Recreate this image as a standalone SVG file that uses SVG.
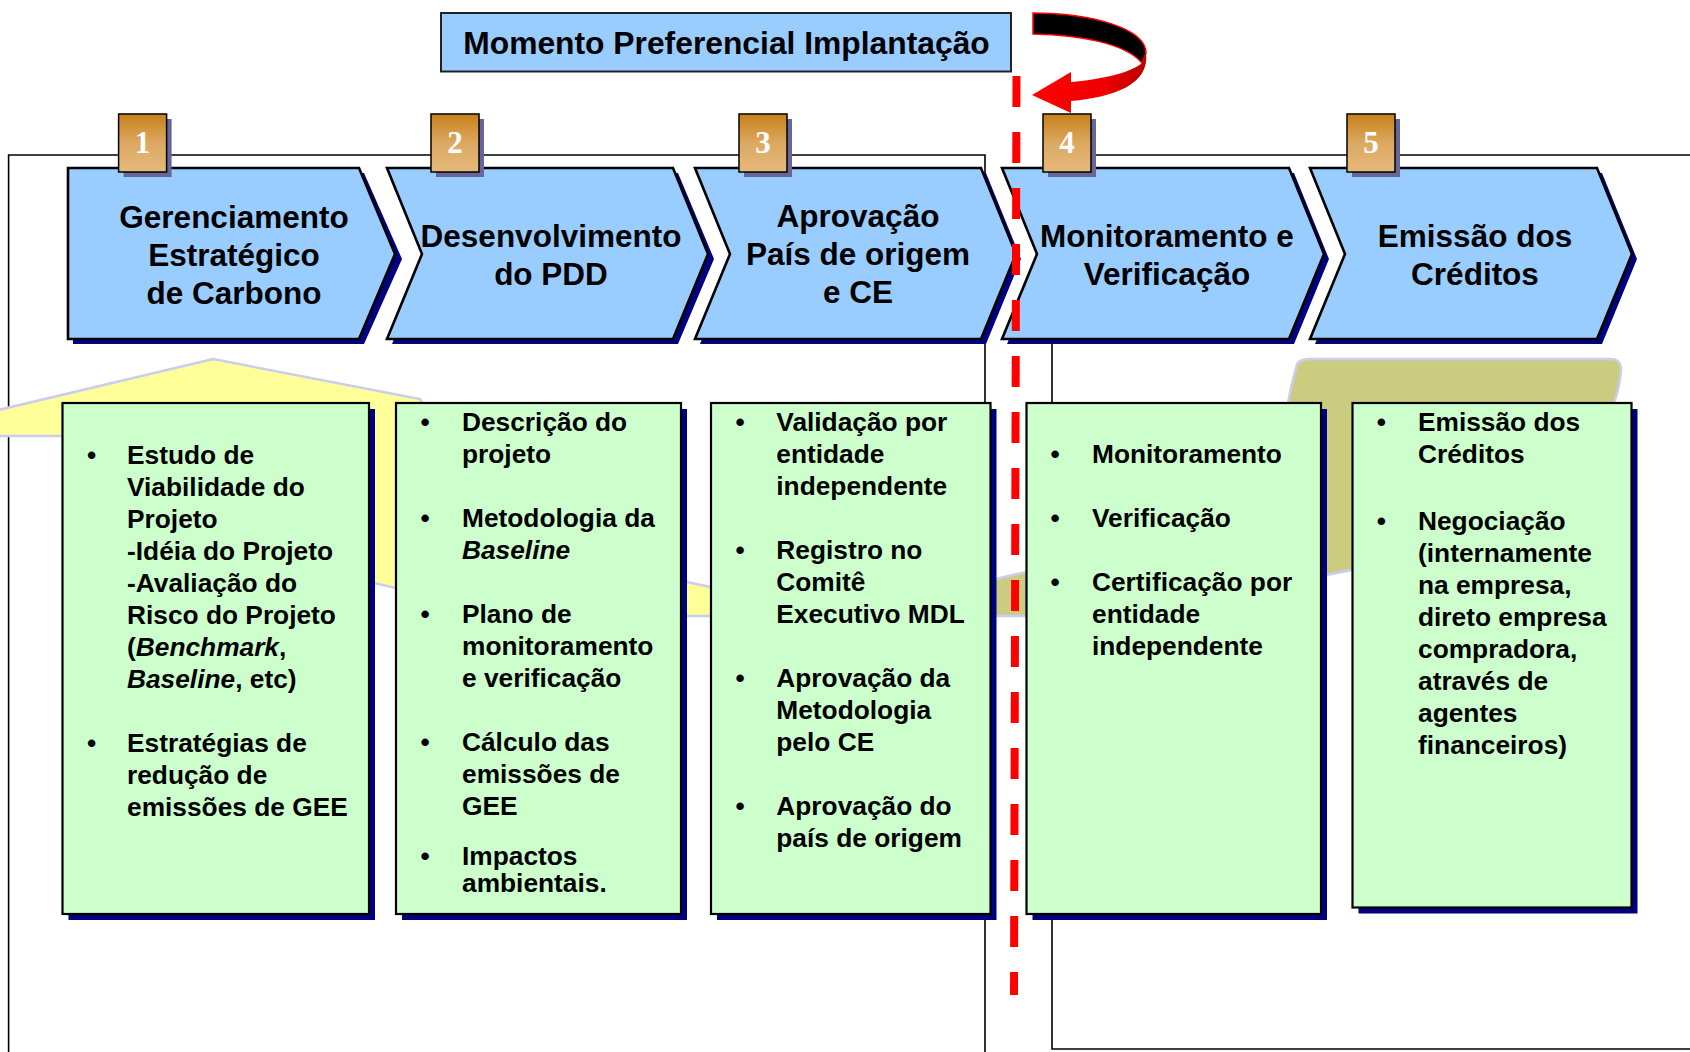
<svg xmlns="http://www.w3.org/2000/svg" width="1690" height="1052" viewBox="0 0 1690 1052">
<defs>
<linearGradient id="bg" x1="0" y1="0" x2="0" y2="1">
<stop offset="0" stop-color="#C8801A"/>
<stop offset="0.5" stop-color="#DCA862"/>
<stop offset="1" stop-color="#E4BA7C"/>
</linearGradient>
<linearGradient id="rg" x1="0" y1="0" x2="1" y2="0">
<stop offset="0" stop-color="#FF0000"/>
<stop offset="0.65" stop-color="#EE0000"/>
<stop offset="1" stop-color="#B80000"/>
</linearGradient>
</defs>
<style>
.frame{fill:none;stroke:#000;stroke-width:1.6}
.chev{fill:#99CCFF;stroke:#000;stroke-width:2.6;stroke-linejoin:miter}
.shadow{fill:#000080}
.bshadow{fill:#666699}
.badge{fill:url(#bg);stroke:#000;stroke-width:1.5}
.num{font-family:"Liberation Serif","Times New Roman",serif;font-weight:bold;font-size:31px;fill:#fff;text-anchor:middle}
.ct{font-family:"Liberation Sans",Arial,sans-serif;font-weight:bold;font-size:31.5px;fill:#000;text-anchor:middle}
.box{fill:#CCFFCC;stroke:#000;stroke-width:2.2}
.bt{font-family:"Liberation Sans",Arial,sans-serif;font-weight:bold;font-size:26.3px;fill:#000}
.bul{font-family:"Liberation Sans",Arial,sans-serif;font-weight:bold;font-size:26.3px;fill:#000;text-anchor:middle}
.it{font-style:italic}
.mt{font-family:"Liberation Sans",Arial,sans-serif;font-weight:bold;font-size:31.8px;fill:#000;text-anchor:middle}
</style>

<g id="frames">
<path class="frame" d="M8.6,1060 V155 H985 V1060"/>
<path class="frame" d="M1700,155 H1052 V1049 H1700"/>
</g>

<g id="backgrounds">
<path d="M-10,412 L213,359 L420,399 L430,420 L600,564 L740,593 L740,616 L650,616 L600,592 L396,588 L369,582 L300,440 L70,436 L-10,436 Z" fill="#FFFF99" stroke="#CCCCF0" stroke-width="2.5"/>
<path d="M1296,368 Q1297,359 1309,359 L1610,359 Q1622,359 1621,371 Q1619,390 1614,403 L1500,500 L1352,570 L1321,576 L1200,600 L1100,616 L900,616 L900,601 L996,579 L1026,572 L1150,543 L1288,403 Q1291,385 1296,368 Z" fill="#CCCC80" stroke="#CCCCF0" stroke-width="2.5"/>
</g>

<g id="step1">
<polygon class="shadow" points="73,173 364,173 402,259 364,344 73,344"/>
<polygon class="chev" points="68,168 359,168 395,254 359,339 68,339"/>
<text class="ct" x="234" y="227.5">Gerenciamento</text>
<text class="ct" x="234" y="265.5">Estratégico</text>
<text class="ct" x="234" y="303.5">de Carbono</text>
<rect class="bshadow" x="123.6" y="119" width="48" height="58"/>
<rect class="badge" x="118.6" y="114" width="48" height="58"/>
<text class="num" x="142.6" y="153">1</text>
</g>

<g id="step2">
<polygon class="shadow" points="392,173 678,173 714,259 678,344 392,344 427,259"/>
<polygon class="chev" points="387,168 673,168 708,254 673,339 387,339 422,254"/>
<text class="ct" x="551" y="246.7">Desenvolvimento</text>
<text class="ct" x="551" y="285">do PDD</text>
<rect class="bshadow" x="436" y="119" width="48" height="58"/>
<rect class="badge" x="431" y="114" width="48" height="58"/>
<text class="num" x="455" y="153">2</text>
</g>

<g id="step3">
<polygon class="shadow" points="700,173 986,173 1021,259 986,344 700,344 735,259"/>
<polygon class="chev" points="695,168 981,168 1016,254 981,339 695,339 730,254"/>
<text class="ct" x="858" y="227">Aprovação</text>
<text class="ct" x="858" y="265">País de origem</text>
<text class="ct" x="858" y="303">e CE</text>
<rect class="bshadow" x="744" y="119" width="48" height="58"/>
<rect class="badge" x="739" y="114" width="48" height="58"/>
<text class="num" x="763" y="153">3</text>
</g>

<g id="step4">
<polygon class="shadow" points="1007,173 1294,173 1329,259 1294,344 1007,344 1042,259"/>
<polygon class="chev" points="1002,168 1289,168 1324,254 1289,339 1002,339 1037,254"/>
<text class="ct" x="1167" y="246.7">Monitoramento e</text>
<text class="ct" x="1167" y="285">Verificação</text>
<rect class="bshadow" x="1048" y="119" width="48" height="58"/>
<rect class="badge" x="1043" y="114" width="48" height="58"/>
<text class="num" x="1067" y="153">4</text>
</g>

<g id="step5">
<polygon class="shadow" points="1315,173 1602,173 1637,259 1602,344 1315,344 1350,259"/>
<polygon class="chev" points="1310,168 1597,168 1632,254 1597,339 1310,339 1345,254"/>
<text class="ct" x="1475" y="246.7">Emissão dos</text>
<text class="ct" x="1475" y="285">Créditos</text>
<rect class="bshadow" x="1352" y="119" width="48" height="58"/>
<rect class="badge" x="1347" y="114" width="48" height="58"/>
<text class="num" x="1371" y="153">5</text>
</g>

<g id="box1">
<rect class="shadow" x="68.5" y="409" width="306.5" height="511"/>
<rect class="box" x="62.5" y="403" width="306.5" height="511"/>
<text class="bul" x="91.5" y="463.5">•</text>
<text class="bt" x="127" y="463.5">Estudo de</text>
<text class="bt" x="127" y="495.5">Viabilidade do</text>
<text class="bt" x="127" y="527.5">Projeto</text>
<text class="bt" x="127" y="559.5">-Idéia do Projeto</text>
<text class="bt" x="127" y="591.5">-Avaliação do</text>
<text class="bt" x="127" y="623.5">Risco do Projeto</text>
<text class="bt" x="127" y="655.5">(<tspan class="it">Benchmark</tspan>,</text>
<text class="bt" x="127" y="687.5"><tspan class="it">Baseline</tspan>, etc)</text>
<text class="bul" x="91.5" y="751.5">•</text>
<text class="bt" x="127" y="751.5">Estratégias de</text>
<text class="bt" x="127" y="783.5">redução de</text>
<text class="bt" x="127" y="815.5">emissões de GEE</text>
</g>

<g id="box2">
<rect class="shadow" x="402" y="409" width="285" height="511"/>
<rect class="box" x="396" y="403" width="285" height="511"/>
<text class="bul" x="425" y="431">•</text>
<text class="bt" x="462" y="431">Descrição do</text>
<text class="bt" x="462" y="463">projeto</text>
<text class="bul" x="425" y="527">•</text>
<text class="bt" x="462" y="527">Metodologia da</text>
<text class="bt it" x="462" y="559">Baseline</text>
<text class="bul" x="425" y="623">•</text>
<text class="bt" x="462" y="623">Plano de</text>
<text class="bt" x="462" y="655">monitoramento</text>
<text class="bt" x="462" y="687">e verificação</text>
<text class="bul" x="425" y="751">•</text>
<text class="bt" x="462" y="751">Cálculo das</text>
<text class="bt" x="462" y="783">emissões de</text>
<text class="bt" x="462" y="815">GEE</text>
<text class="bul" x="425" y="865">•</text>
<text class="bt" x="462" y="865">Impactos</text>
<text class="bt" x="462" y="892">ambientais.</text>
</g>

<g id="box3">
<rect class="shadow" x="717" y="409" width="279.5" height="511"/>
<rect class="box" x="711" y="403" width="279.5" height="511"/>
<text class="bul" x="740" y="431">•</text>
<text class="bt" x="776.3" y="431">Validação por</text>
<text class="bt" x="776.3" y="463">entidade</text>
<text class="bt" x="776.3" y="495">independente</text>
<text class="bul" x="740" y="559">•</text>
<text class="bt" x="776.3" y="559">Registro no</text>
<text class="bt" x="776.3" y="591">Comitê</text>
<text class="bt" x="776.3" y="623">Executivo MDL</text>
<text class="bul" x="740" y="687">•</text>
<text class="bt" x="776.3" y="687">Aprovação da</text>
<text class="bt" x="776.3" y="719">Metodologia</text>
<text class="bt" x="776.3" y="751">pelo CE</text>
<text class="bul" x="740" y="815">•</text>
<text class="bt" x="776.3" y="815">Aprovação do</text>
<text class="bt" x="776.3" y="847">país de origem</text>
</g>

<g id="box4">
<rect class="shadow" x="1032.5" y="409" width="294.5" height="511"/>
<rect class="box" x="1026.5" y="403" width="294.5" height="511"/>
<text class="bul" x="1055" y="463">•</text>
<text class="bt" x="1092" y="463">Monitoramento</text>
<text class="bul" x="1055" y="527">•</text>
<text class="bt" x="1092" y="527">Verificação</text>
<text class="bul" x="1055" y="591">•</text>
<text class="bt" x="1092" y="591">Certificação por</text>
<text class="bt" x="1092" y="623">entidade</text>
<text class="bt" x="1092" y="655">independente</text>
</g>

<g id="box5">
<rect class="shadow" x="1358.5" y="409" width="279" height="504.5"/>
<rect class="box" x="1352.5" y="403" width="279" height="504.5"/>
<text class="bul" x="1381.4" y="431">•</text>
<text class="bt" x="1418" y="431">Emissão dos</text>
<text class="bt" x="1418" y="463">Créditos</text>
<text class="bul" x="1381.4" y="529.5">•</text>
<text class="bt" x="1418" y="529.5">Negociação</text>
<text class="bt" x="1418" y="561.5">(internamente</text>
<text class="bt" x="1418" y="593.5">na empresa,</text>
<text class="bt" x="1418" y="625.5">direto empresa</text>
<text class="bt" x="1418" y="657.5">compradora,</text>
<text class="bt" x="1418" y="689.5">através de</text>
<text class="bt" x="1418" y="721.5">agentes</text>
<text class="bt" x="1418" y="753.5">financeiros)</text>
</g>

<g id="momento">
<rect x="441" y="13" width="570" height="58.5" fill="#99CCFF" stroke="#222" stroke-width="2"/>
<text class="mt" x="726.5" y="53.5">Momento Preferencial Implantação</text>
</g>

<g id="connectors">
<path d="M1033,13 C1090,13 1146,28 1146,53 L1142,63 C1125,43 1080,35 1033,34 Z" fill="#000" stroke="#FF0000" stroke-width="1.5"/>
<path d="M1146,53 C1150,84 1115,97 1071,101 L1071,113 L1032,95 L1071,72 L1071,82 C1105,79 1132,72 1142,63 Z" fill="url(#rg)"/>
<line x1="1016.5" y1="76" x2="1014" y2="995" stroke="#FF0000" stroke-width="8" stroke-dasharray="31 25"/>
</g>
</svg>
